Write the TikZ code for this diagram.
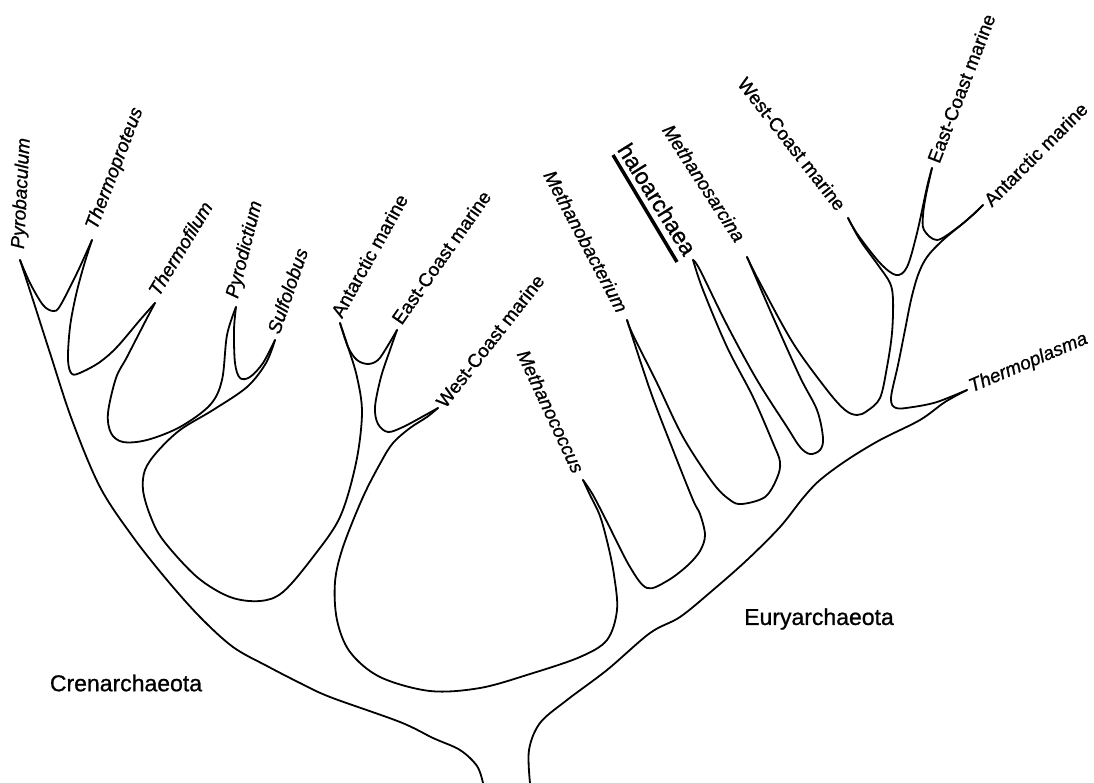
\documentclass[tikz,border=0pt]{standalone}
\usepackage{fontspec}
\setmainfont{Liberation Sans}[FakeBold=0.9]
\begin{document}
\begin{tikzpicture}[x=1pt,y=-1pt,
  outline/.style={line width=1.8pt, line join=round, line cap=round},
  lab/.style={inner sep=0pt, font=\fontsize{19}{19}\selectfont},
  gen/.style={inner sep=0pt, font=\fontsize{19}{19}\selectfont\itshape},
  grp/.style={inner sep=0pt, font=\fontsize{23}{23}\selectfont}]
\useasboundingbox (0,0) rectangle (1094,783);
% tips
\coordinate (tPyb) at (20,260);
\coordinate (tThp) at (92,240);
\coordinate (tThf) at (155,303);
\coordinate (tPyd) at (236,307);
\coordinate (tSul) at (275,340);
\coordinate (tCAn) at (340,323);
\coordinate (tCEc) at (397,330);
\coordinate (tCWc) at (438,408);
\coordinate (tMcc) at (583,480);
\coordinate (tMbc) at (627,320);
\coordinate (tHal) at (693,260);
\coordinate (tMsa) at (747,257);
\coordinate (tEWc) at (848,218);
\coordinate (tEEc) at (932,168);
\coordinate (tEAn) at (983,205);
\coordinate (tTpl) at (967,390);
\coordinate (rootL) at (483,783);
\coordinate (rootR) at (530,783);
% outline of the tree
\draw[outline] plot[smooth,tension=0.55] coordinates {(rootL) (477,766) (460,750) (433,738) (400,722) (330,697) (300,683) (267,666) (233,647) (200,617) (167,580) (133,537) (100,487) (72,420) (50,353) (33,300) (tPyb)};
\draw[outline] plot[smooth,tension=0.55] coordinates {(tPyb) (30,283) (43,305) (53,311) (60,306) (77,273) (tThp)};
\draw[outline] plot[smooth,tension=0.55] coordinates {(tThp) (84,265) (76,295) (70,327) (68,360) (72,374) (82,372) (100,362) (117,347) (140,320) (tThf)};
\draw[outline] plot[smooth,tension=0.55] coordinates {(tThf) (145,322) (127,357) (116,378) (108,413) (111,433) (123,442) (147,440) (180,427) (210,405) (222,380) (227,335) (tPyd)};
\draw[outline] plot[smooth,tension=0.55] coordinates {(tPyd) (234,330) (235,363) (240,378) (250,377) (263,363) (tSul)};
\draw[outline] plot[smooth,tension=0.55] coordinates {(tSul) (266,363) (247,387) (213,410) (180,430) (157,452) (145,470) (143,490) (150,515) (163,540) (197,577) (230,597) (260,601) (283,592) (313,557) (340,517) (356,463) (362,413) (357,377) (348,347) (tCAn)};
\draw[outline] plot[smooth,tension=0.55] coordinates {(tCAn) (348,347) (357,360) (368,364) (378,360) (387,347) (tCEc)};
\draw[outline] plot[smooth,tension=0.55] coordinates {(tCEc) (390,350) (381,377) (375,407) (378,424) (388,432) (403,427) (420,418) (tCWc)};
\draw[outline] plot[smooth,tension=0.55] coordinates {(tCWc) (427,417) (410,428) (393,443) (381,462) (363,497) (343,547) (335,582) (337,620) (350,652) (380,677) (430,691) (480,688) (530,674) (580,657) (607,640) (617,610) (614,575) (608,545) (600,516) (590,495) (tMcc)};
\draw[outline] plot[smooth,tension=0.55] coordinates {(tMcc) (593,495) (607,522) (630,567) (647,588) (667,581) (687,566) (700,551) (705,535) (700,514) (693,500) (673,450) (650,390) (tMbc)};
\draw[outline] plot[smooth,tension=0.55] coordinates {(tMbc) (633,335) (657,383) (683,437) (713,483) (730,500) (742,504) (765,497) (777,478) (780,462) (773,443) (753,397) (727,347) (703,290) (tHal)};
\draw[outline] plot[smooth,tension=0.55] coordinates {(tHal) (700,270) (727,325) (757,380) (787,427) (800,447) (810,454) (820,450) (823,438) (817,410) (800,377) (773,317) (tMsa)};
\draw[outline] plot[smooth,tension=0.55] coordinates {(tMsa) (760,283) (793,343) (827,390) (845,410) (857,415) (867,411) (880,398) (887,367) (892,333) (893,300) (890,283) (878,265) (860,240) (tEWc)};
\draw[outline] plot[smooth,tension=0.55] coordinates {(tEWc) (858,235) (880,263) (896,275) (907,267) (917,233) (927,187) (tEEc)};
\draw[outline] plot[smooth,tension=0.55] coordinates {(tEEc) (926,195) (923,215) (924,230) (937,240) (957,228) (975,213) (tEAn)};
\draw[outline] plot[smooth,tension=0.55] coordinates {(tEAn) (967,220) (943,240) (927,257) (918,275) (911,300) (905,330) (898,365) (891,398) (896,408) (913,407) (937,402) (tTpl)};
\draw[outline] plot[smooth,tension=0.55] coordinates {(tTpl) (945,402) (920,420) (880,440) (847,460) (820,480) (803,498) (780,527) (747,560) (713,590) (680,617) (650,633) (607,670) (567,700) (540,723) (529,750) (rootR)};
% labels
\node[gen, anchor=west, rotate=87] (Pyb) at (19,249) {Pyrobaculum};
\node[gen, anchor=west, rotate=69] (Thp) at (92,229) {Thermoproteus};
\node[gen, anchor=west, rotate=59] (Thf) at (153,294) {Thermofilum};
\node[gen, anchor=west, rotate=76] (Pyd) at (233,298) {Pyrodictium};
\node[gen, anchor=west, rotate=71] (Sul) at (273,333) {Sulfolobus};
\node[lab, anchor=west, rotate=61] (CAn) at (336,316) {Antarctic marine};
\node[lab, anchor=west, rotate=55] (CEc) at (396,322) {East-Coast marine};
\node[lab, anchor=west, rotate=52] (CWc) at (440,405) {West-Coast marine};
\node[gen, anchor=east, rotate=-65] (Mcc) at (579,472) {Methanococcus};
\node[gen, anchor=east, rotate=-62] (Mbc) at (623,311) {Methanobacterium};
\node[grp, anchor=east, rotate=-58] (Hal) at (691,253) {haloarchaea};
\node[gen, anchor=east, rotate=-57] (Msa) at (741,240) {Methanosarcina};
\node[lab, anchor=east, rotate=-52] (EWc) at (842,208) {West-Coast marine};
\node[lab, anchor=west, rotate=69] (EEc) at (933,162) {East-Coast marine};
\node[lab, anchor=west, rotate=45] (EAn) at (987,203) {Antarctic marine};
\node[gen, anchor=west, rotate=23] (Tpl) at (970,388) {Thermoplasma};
\node[grp] (Cren) at (126,683) {Crenarchaeota};
\node[grp] (Eury) at (819,619) {Euryarchaeota};
% bar beside haloarchaea
\draw[line width=3.5pt] (613,155) -- (677,262);
\end{tikzpicture}
\end{document}
